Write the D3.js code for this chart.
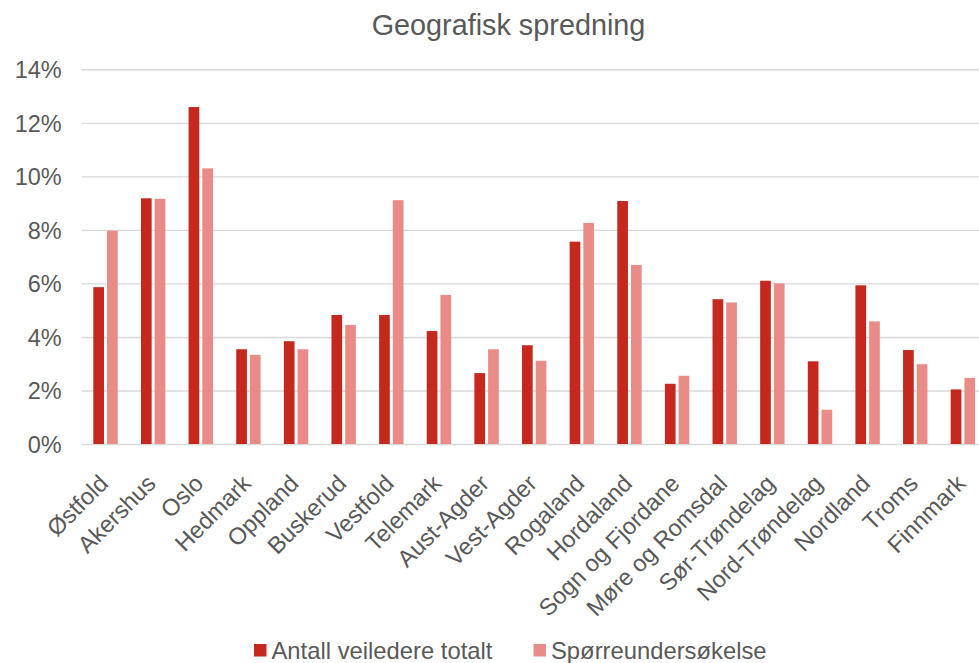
<!DOCTYPE html>
<html>
<head>
<meta charset="utf-8">
<script src="https://cdn.jsdelivr.net/npm/d3@7"></script>
<style>
  html, body { margin: 0; padding: 0; background: #fff; }
  svg { display: block; font-family: "Liberation Sans", Arial, sans-serif; }
</style>
</head>
<body>
<svg id="chart" width="979" height="663"></svg>
<script>
// Counties (fylker)
const categories = ["Østfold", "Akershus", "Oslo", "Hedmark", "Oppland", "Buskerud", "Vestfold",
  "Telemark", "Aust-Agder", "Vest-Agder", "Rogaland", "Hordaland", "Sogn og Fjordane",
  "Møre og Romsdal", "Sør-Trøndelag", "Nord-Trøndelag", "Nordland", "Troms", "Finnmark"];

// Share per county, in percent
const antallVeiledere = [5.86, 9.18, 12.59, 3.54, 3.84, 4.82, 4.82, 4.22, 2.65, 3.69,
  7.56, 9.08, 2.25, 5.41, 6.10, 3.09, 5.93, 3.51, 2.04];
const sporreundersokelse = [7.97, 9.16, 10.30, 3.33, 3.54, 4.45, 9.11, 5.57, 3.54, 3.11,
  8.26, 6.69, 2.55, 5.29, 6.00, 1.28, 4.58, 2.98, 2.47];

const seriesNames = ["Antall veiledere totalt", "Spørreundersøkelse"];
const yTicks = [0, 2, 4, 6, 8, 10, 12, 14];
const title = "Geografisk spredning";

const colors = ["#C5281C", "#E98B87"];
const textColor = "#595959";
const gridColor = "#D9D9D9";

const svg = d3.select("#chart");

const plot = { left: 81.7, right: 986.7, top: 69.3, bottom: 444 };

const x = d3.scaleBand().domain(categories).range([plot.left, plot.right]).padding(0);
const groupWidth = 24.4;
const xSub = d3.scaleBand().domain([0, 1]).range([0, groupWidth]).paddingInner(0.22);
const y = d3.scaleLinear().domain([0, 14]).range([plot.bottom, plot.top]);

// Title
svg.append("text")
  .attr("x", 508.5).attr("y", 35)
  .attr("text-anchor", "middle")
  .attr("fill", textColor)
  .style("font-size", "28.8px")
  .text(title);

// Gridlines and y tick labels
const yAxis = d3.axisLeft(y)
  .tickValues(yTicks)
  .tickSize(-(plot.right - plot.left))
  .tickPadding(20)
  .tickFormat(d => d + "%");

const gY = svg.append("g")
  .attr("transform", `translate(${plot.left},0)`)
  .call(yAxis);
gY.select(".domain").remove();
gY.selectAll(".tick line").attr("stroke", gridColor).attr("stroke-width", 1.4);
gY.selectAll(".tick text")
  .attr("fill", textColor)
  .style("font-size", "23.5px")
  .style("font-family", "'Liberation Sans', Arial, sans-serif")
  .attr("dy", "0.35em");

// Bars
const data = categories.map((c, i) => ({ c, vals: [antallVeiledere[i], sporreundersokelse[i]] }));
const groups = svg.append("g").selectAll("g")
  .data(data).join("g")
  .attr("transform", d => `translate(${x(d.c) + (x.bandwidth() - groupWidth) / 2},0)`);

groups.selectAll("rect")
  .data(d => d.vals.map((v, k) => ({ v, k })))
  .join("rect")
  .attr("x", d => xSub(d.k))
  .attr("width", xSub.bandwidth())
  .attr("y", d => y(d.v))
  .attr("height", d => y(0) - y(d.v))
  .attr("fill", d => colors[d.k]);

// Category axis labels
const xAxis = d3.axisBottom(x).tickSize(0).tickPadding(0);
const gX = svg.append("g")
  .attr("transform", `translate(0,${plot.bottom})`)
  .call(xAxis);
gX.select(".domain").remove();
gX.selectAll(".tick text")
  .attr("fill", textColor)
  .style("font-size", "23.6px")
  .style("font-family", "'Liberation Sans', Arial, sans-serif")
  .attr("text-anchor", "end")
  .attr("dy", null)
  .attr("y", null)
  .attr("transform", "translate(4,41) rotate(-45)");

// Legend
const legend = svg.append("g");
const legendItems = [
  { name: seriesNames[0], color: colors[0], x: 254 },
  { name: seriesNames[1], color: colors[1], x: 533.5 }
];
legendItems.forEach(it => {
  legend.append("rect")
    .attr("x", it.x).attr("y", 644)
    .attr("width", 12.5).attr("height", 12.5)
    .attr("fill", it.color);
  legend.append("text")
    .attr("x", it.x + 17.5).attr("y", 659)
    .attr("fill", textColor)
    .style("font-size", "23.8px")
    .text(it.name);
});
</script>
</body>
</html>
